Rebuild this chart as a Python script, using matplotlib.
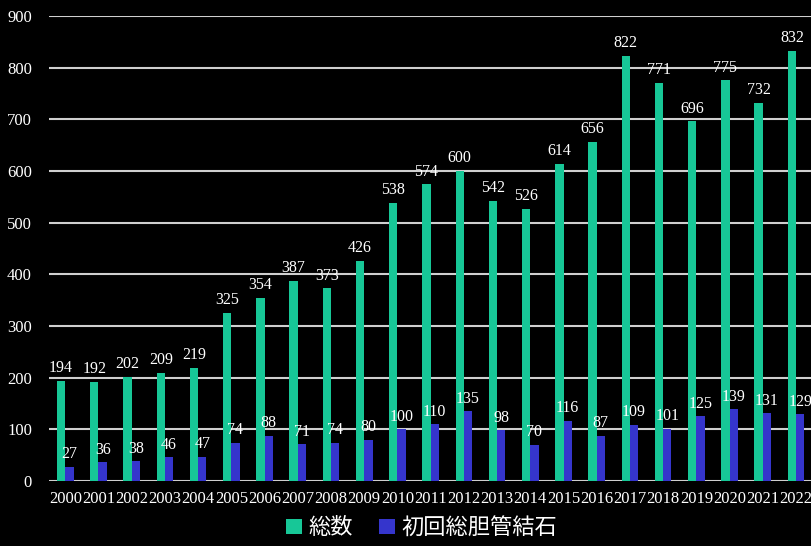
import numpy as np
import matplotlib.pyplot as plt

# 年別の件数
years = [str(y) for y in range(2000, 2023)]
total = [194, 192, 202, 209, 219, 325, 354, 387, 373, 426, 538, 574,
         600, 542, 526, 614, 656, 822, 771, 696, 775, 732, 832]
first_cbd = [27, 36, 38, 46, 47, 74, 88, 71, 74, 80, 100, 110,
             135, 98, 70, 116, 87, 109, 101, 125, 139, 131, 129]
series_names = ['総数', '初回総胆管結石']

green = '#17c797'
blue = '#3535cc'

fig = plt.figure(figsize=(8.11, 5.46), dpi=100, facecolor='black')
ax = fig.add_axes([0.060, 0.119, 0.942, 0.852], facecolor='black')

x = np.arange(len(years))
w = 0.25
b1 = ax.bar(x - w / 2, total, width=w, color=green, label=series_names[0], zorder=3)
b2 = ax.bar(x + w / 2, first_cbd, width=w, color=blue, label=series_names[1], zorder=3)

serif = 'Liberation Serif'
for bars, vals in ((b1, total), (b2, first_cbd)):
    for rect, v in zip(bars, vals):
        ax.text(rect.get_x() + rect.get_width() / 2, v + 9, str(v),
                ha='center', va='bottom', color='white', fontsize=11.5,
                family=serif, zorder=4)

ax.set_ylim(0, 900)
ax.set_yticks(range(0, 901, 100))
ax.set_xlim(-0.5, len(years) - 0.5)
ax.set_xticks(x)
ax.set_xticklabels(years)
ax.yaxis.grid(True, color='#cfcfcf', linewidth=1.5, zorder=0)
ax.set_axisbelow(True)
for s in ax.spines.values():
    s.set_visible(False)
ax.tick_params(length=0, colors='white', labelsize=12)
ax.tick_params(axis='y', pad=12)
ax.tick_params(axis='x', pad=7)
for lab in ax.get_xticklabels() + ax.get_yticklabels():
    lab.set_family(serif)

leg = fig.legend(handles=[b1, b2], loc='center', bbox_to_anchor=(0.52, 0.033),
                 ncol=2, frameon=False, handlelength=0.7, handleheight=0.7,
                 handletextpad=0.3, columnspacing=1.2,
                 prop={'family': ['Noto Sans CJK JP', 'DejaVu Sans'], 'size': 16})
for t in leg.get_texts():
    t.set_color('white')

fig.savefig('out.png', dpi=100, facecolor='black')
